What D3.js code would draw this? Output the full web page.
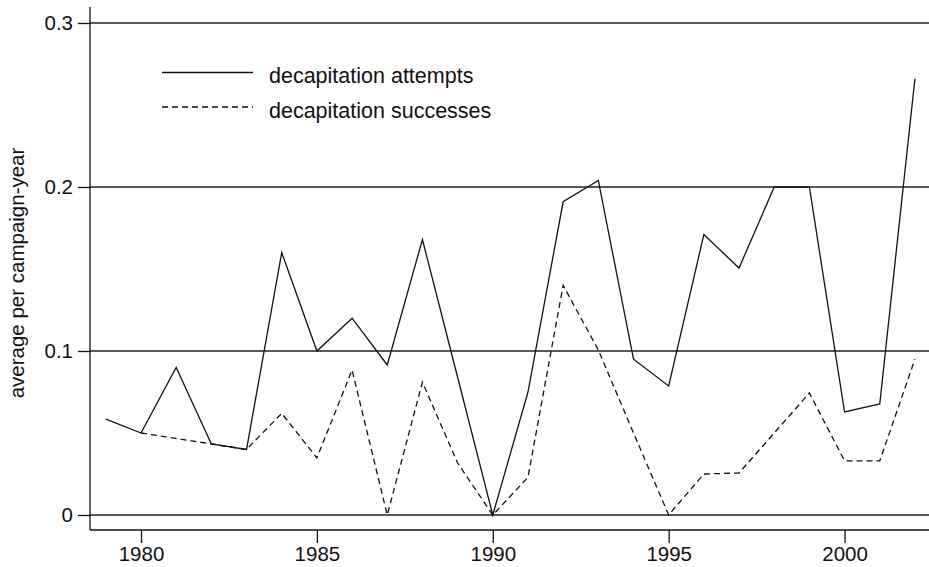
<!DOCTYPE html>
<html>
<head>
<meta charset="utf-8">
<script src="https://cdn.jsdelivr.net/npm/d3@7"></script>
<style>
  html, body { margin: 0; padding: 0; background: #fff; }
  svg { display: block; }
  text { font-family: "Liberation Sans", Arial, Helvetica, sans-serif; fill: #111; }
</style>
</head>
<body>
<svg id="chart" width="929" height="567"></svg>
<script>
const years = [1979,1980,1981,1982,1983,1984,1985,1986,1987,1988,1989,1990,1991,1992,1993,1994,1995,1996,1997,1998,1999,2000,2001,2002];
const attempts = [0.0585,0.050,0.090,0.0433,0.040,0.160,0.100,0.120,0.0915,0.168,0.084,0.000,0.075,0.191,0.204,0.095,0.0787,0.171,0.1506,0.200,0.200,0.0628,0.0677,0.266];
const successYears = [1980,1981,1982,1983,1984,1985,1986,1987,1988,1989,1990,1991,1992,1993,1994,1995,1996,1997,1998,1999,2000,2001,2002];
const successes = [0.050,0.0467,0.0433,0.040,0.062,0.0348,0.0884,0.000,0.081,0.0317,0.000,0.023,0.140,0.1006,0.050,0.000,0.025,0.0256,0.050,0.0744,0.033,0.033,0.095];
const yTicks = [0, 0.1, 0.2, 0.3];
const xTicks = [1980, 1985, 1990, 1995, 2000];
const legendLabels = ["decapitation attempts", "decapitation successes"];
const yTitle = "average per campaign-year";

(function () {
const svg = d3.select("#chart");
const mLeft = 90, mRight = 929, mTop = 7, mBottom = 530;
const fs = 20.5;

const x = d3.scaleLinear().domain([1978.55, 2002.4]).range([mLeft, mRight]);
const y = d3.scaleLinear().domain([0, 0.3]).range([515, 23]);

// gridlines
svg.append("g").selectAll("line").data(yTicks).join("line")
  .attr("x1", mLeft).attr("x2", mRight)
  .attr("y1", d => y(d)).attr("y2", d => y(d))
  .attr("stroke", "#222").attr("stroke-width", 1.3);

// y axis
const yAxis = d3.axisLeft(y).tickValues(yTicks).tickSize(12).tickPadding(5)
  .tickFormat(d => d === 0 ? "0" : d3.format(".1f")(d));
const gy = svg.append("g").attr("transform", `translate(${mLeft},0)`).call(yAxis);
gy.attr("font-size", fs).attr("font-family", null);
gy.select(".domain").remove();
gy.append("line").attr("x1", 0).attr("x2", 0).attr("y1", mTop).attr("y2", mBottom)
  .attr("stroke", "#111").attr("stroke-width", 1.3);
gy.selectAll(".tick line").attr("stroke", "#111").attr("stroke-width", 1.3);
gy.selectAll(".tick text").style("fill", "#111");

// x axis
const xAxis = d3.axisBottom(x).tickValues(xTicks).tickSize(13).tickPadding(3).tickFormat(d3.format("d"));
const gx = svg.append("g").attr("transform", `translate(0,${mBottom})`).call(xAxis);
gx.attr("font-size", fs).attr("font-family", null);
gx.select(".domain").remove();
gx.append("line").attr("x1", mLeft).attr("x2", mRight).attr("y1", 0).attr("y2", 0)
  .attr("stroke", "#111").attr("stroke-width", 1.3);
gx.selectAll(".tick line").attr("stroke", "#111").attr("stroke-width", 1.3);
gx.selectAll(".tick text").style("fill", "#111");

// y title
svg.append("text")
  .attr("transform", `translate(24,273) rotate(-90)`)
  .attr("text-anchor", "middle")
  .attr("font-size", fs)
  .text(yTitle);

// lines
const line = d3.line().x(d => x(d[0])).y(d => y(d[1]));
svg.append("path")
  .datum(years.map((yr, i) => [yr, attempts[i]]))
  .attr("d", line).attr("fill", "none")
  .attr("stroke", "#111").attr("stroke-width", 1.3).attr("stroke-linejoin", "miter");
svg.append("path")
  .datum(successYears.map((yr, i) => [yr, successes[i]]))
  .attr("d", line).attr("fill", "none")
  .attr("stroke", "#111").attr("stroke-width", 1.3).attr("stroke-dasharray", "6,4");

// legend
const legend = svg.append("g");
const legY = [72.5, 107];
legendLabels.forEach((lab, i) => {
  legend.append("line")
    .attr("x1", 162).attr("x2", 253).attr("y1", legY[i]).attr("y2", legY[i])
    .attr("stroke", "#111").attr("stroke-width", 1.3)
    .attr("stroke-dasharray", i === 1 ? "6,4" : null);
  legend.append("text")
    .attr("x", 269).attr("y", legY[i] + 10.5)
    .attr("font-size", 21.5)
    .text(lab);
});
})();
</script>
</body>
</html>
